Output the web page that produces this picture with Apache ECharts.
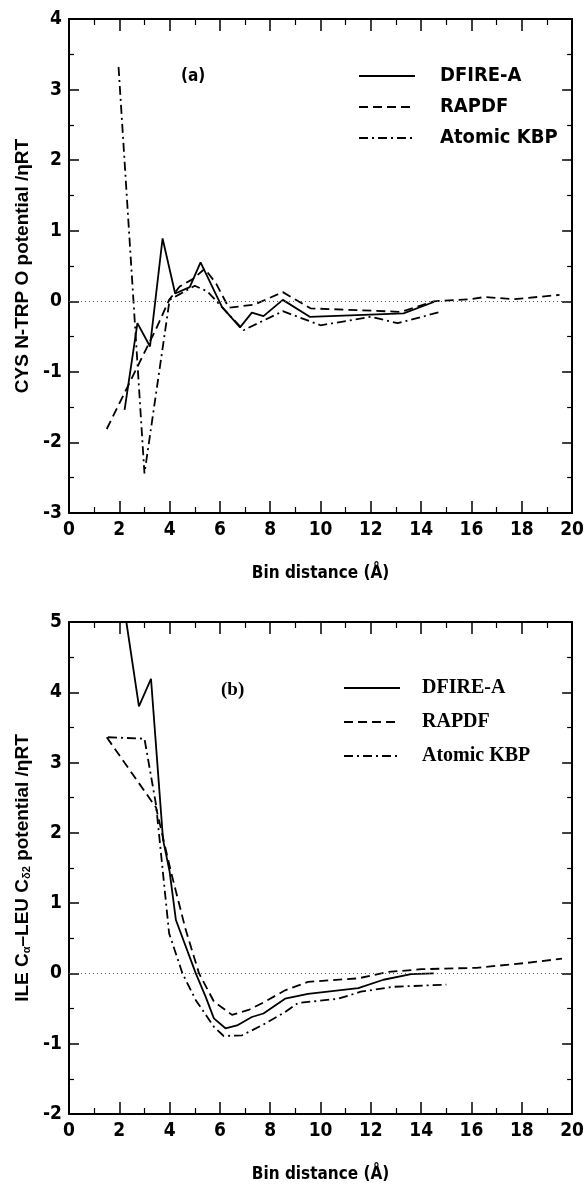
<!DOCTYPE html>
<html>
<head>
<meta charset="utf-8">
<script src="https://cdn.jsdelivr.net/npm/echarts@6/dist/echarts.min.js"></script>
<style>
html,body{margin:0;padding:0;background:#fff;}
#chart{width:587px;height:1184px;}
</style>
</head>
<body>
<div id="chart"></div>
<script>
// ---- Data (bin distance in Å, potential / ηRT) ----
const seriesNames = ['DFIRE-A', 'RAPDF', 'Atomic KBP'];
const xTicks = [0, 2, 4, 6, 8, 10, 12, 14, 16, 18, 20];

// Panel (a): CYS N - TRP O
const a_dfire = [[2.21,-1.54],[2.72,-0.31],[3.22,-0.64],[3.72,0.89],[4.22,0.11],[4.8,0.2],[5.23,0.55],[6.08,-0.08],[6.8,-0.37],[7.27,-0.16],[7.73,-0.21],[8.5,0.02],[9.57,-0.22],[13.3,-0.17],[14.5,-0.01]];
const a_rapdf = [[1.5,-1.81],[3.45,-0.4],[3.98,0.02],[4.4,0.21],[4.9,0.31],[5.4,0.46],[5.85,0.25],[6.35,-0.09],[7.35,-0.05],[8.5,0.13],[9.6,-0.1],[13.2,-0.15],[14.5,0.0],[16.0,0.03],[16.5,0.06],[17.7,0.03],[19.5,0.09]];
const a_kbp = [[1.97,3.32],[3.0,-2.44],[4.0,0.02],[5.0,0.22],[5.5,0.14],[6.94,-0.41],[8.5,-0.14],[10.0,-0.34],[12.0,-0.22],[13.06,-0.31],[14.77,-0.15]];

// Panel (b): ILE Cα - LEU Cδ2
const b_dfire = [[2.28,5.0],[2.78,3.8],[3.26,4.19],[3.74,1.9],[4.0,1.45],[4.25,0.76],[5.04,0.0],[5.43,-0.33],[5.76,-0.64],[6.22,-0.78],[6.68,-0.74],[7.27,-0.62],[7.73,-0.57],[8.59,-0.36],[9.5,-0.29],[11.5,-0.21],[12.5,-0.09],[13.6,-0.01],[14.5,0.0]];
const b_rapdf = [[1.5,3.36],[3.46,2.36],[4.05,1.45],[4.64,0.62],[5.17,0.0],[5.76,-0.4],[6.48,-0.59],[7.14,-0.52],[7.8,-0.4],[8.59,-0.24],[9.5,-0.12],[11.5,-0.07],[12.66,0.02],[14.0,0.06],[16.2,0.08],[18.2,0.15],[19.6,0.21]];
const b_kbp = [[1.55,3.36],[3.0,3.34],[3.46,2.4],[3.98,0.57],[4.51,0.0],[5.04,-0.38],[5.76,-0.76],[6.15,-0.89],[6.88,-0.88],[7.66,-0.74],[8.59,-0.55],[9.11,-0.42],[10.7,-0.36],[11.6,-0.26],[12.9,-0.19],[15.0,-0.16]];

// ---- Styles ----
const NARROW = "'Liberation Sans Narrow','DejaVu Sans Condensed','Liberation Sans',sans-serif";
const SANS = "'Liberation Sans',Arial,sans-serif";
const SERIF = "'Liberation Serif','Times New Roman',serif";
const lineStyles = [
  {color:'#000', width:1.8, type:'solid'},
  {color:'#000', width:1.8, type:[9,5]},
  {color:'#000', width:1.8, type:[9,4,2,4]}
];

function xAxes(gi){
  const common = {
    type:'value', gridIndex:gi, min:0, max:20, interval:2,
    axisLine:{show:true, onZero:false, lineStyle:{color:'#000', width:2}},
    splitLine:{show:false},
    axisTick:{show:true, inside:true, length:12, lineStyle:{color:'#000', width:1.5}},
    minorTick:{show:true, splitNumber:2, length:6, lineStyle:{color:'#000', width:1.2}},
  };
  return [
    Object.assign({}, common, {position:'bottom',
      axisLabel:{show:true, margin:8, color:'#000', fontFamily:NARROW, fontWeight:'bold', fontSize:19},
      name:'Bin distance (Å)', nameLocation:'middle', nameGap:52,
      nameTextStyle:{color:'#000', fontFamily:NARROW, fontWeight:'bold', fontSize:17}}),
    Object.assign({}, common, {position:'top', axisLabel:{show:false}})
  ];
}
function yAxes(gi, min, max, name){
  const common = {
    type:'value', gridIndex:gi, min:min, max:max, interval:1,
    axisLine:{show:true, onZero:false, lineStyle:{color:'#000', width:2}},
    splitLine:{show:false},
    axisTick:{show:true, inside:true, length:10, lineStyle:{color:'#000', width:1.5}},
    minorTick:{show:true, splitNumber:2, length:5, lineStyle:{color:'#000', width:1.2}},
  };
  return [
    Object.assign({}, common, {position:'left',
      axisLabel:{show:true, margin:7, color:'#000', fontFamily:NARROW, fontWeight:'bold', fontSize:19},
      name:name, nameLocation:'middle', nameRotate:90, nameGap:36,
      nameTextStyle:{color:'#000', fontFamily:SANS, fontWeight:'bold', fontSize:19,
        rich:{
          n:{fontFamily:SANS, fontWeight:'bold', fontSize:19, color:'#000'},
          sub:{fontFamily:SANS, fontWeight:'bold', fontSize:11, color:'#000', verticalAlign:'bottom', padding:[8,0,0,0]}
        }}}),
    Object.assign({}, common, {position:'right', axisLabel:{show:false}})
  ];
}

function mkSeries(name, data, idx, gi){
  const s = {
    name:name, type:'line', data:data,
    xAxisIndex: gi*2, yAxisIndex: gi*2,
    showSymbol:false, symbol:'none', smooth:false, clip:true,
    lineStyle: lineStyles[idx], itemStyle:{color:'#000'},
    emphasis:{disabled:true}, animation:false, z: 3
  };
  if (idx === 0) {
    s.markLine = {
      silent:true, symbol:['none','none'], animation:false,
      label:{show:false},
      lineStyle:{type:[1,3], color:'#555', width:1},
      data:[{yAxis:0}]
    };
  }
  return s;
}

const chart = echarts.init(document.getElementById('chart'), null, {renderer:'canvas'});
const option = {
  backgroundColor:'#fff',
  animation:false,
  grid:[
    {left:69, top:19, width:507, height:494},
    {left:69, top:622, width:507, height:494}
  ],
  xAxis:[...xAxes(0), ...xAxes(1)],
  yAxis:[...yAxes(0,-3,4,'CYS N-TRP O potential /ηRT'),
         ...yAxes(1,-2,5,'{n|ILE C}{sub|α}{n|–LEU C}{sub|δ2}{n| potential /ηRT}')],
  legend:[
    {data:seriesNames, orient:'vertical', left:353, top:60, itemWidth:56, itemHeight:10, itemGap:9,
     selectedMode:false, itemStyle:{opacity:0},
     textStyle:{color:'#000', fontFamily:NARROW, fontWeight:'bold', fontSize:20, lineHeight:22, padding:[0,0,0,20]}},
    {data:seriesNames, orient:'vertical', left:338, top:672, itemWidth:56, itemHeight:10, itemGap:12,
     selectedMode:false, itemStyle:{opacity:0},
     textStyle:{color:'#000', fontFamily:SERIF, fontWeight:'bold', fontSize:20, lineHeight:22, padding:[0,0,0,17]}}
  ],
  graphic:[
    {type:'text', left:181, top:68, style:{text:'(a)', fill:'#000', font:"bold 17px 'Liberation Sans Narrow','DejaVu Sans Condensed',sans-serif"}},
    {type:'text', left:221, top:681, style:{text:'(b)', fill:'#000', font:"bold 19px 'Liberation Serif',serif"}}
  ],
  series:[
    mkSeries('DFIRE-A', a_dfire, 0, 0),
    mkSeries('RAPDF', a_rapdf, 1, 0),
    mkSeries('Atomic KBP', a_kbp, 2, 0),
    mkSeries('DFIRE-A', b_dfire, 0, 1),
    mkSeries('RAPDF', b_rapdf, 1, 1),
    mkSeries('Atomic KBP', b_kbp, 2, 1)
  ]
};
chart.setOption(option);
</script>
</body>
</html>
